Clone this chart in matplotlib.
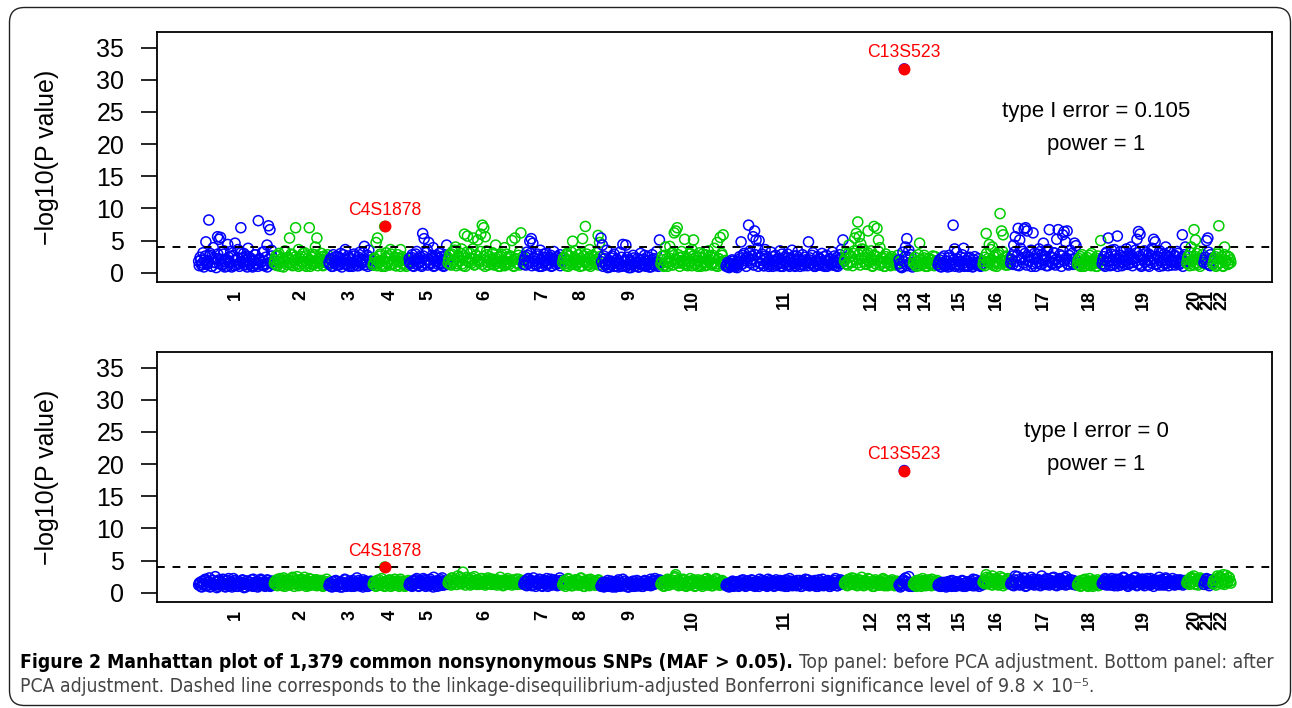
import matplotlib
matplotlib.use('Agg')
import matplotlib.pyplot as plt
from matplotlib import font_manager
from matplotlib.font_manager import FontProperties
from matplotlib.patches import FancyBboxPatch
from matplotlib.transforms import IdentityTransform
import numpy as np

# ---------------- data ----------------
chromosomes = [str(i) for i in range(1, 23)]
chrom_sizes = [101, 73, 59, 48, 52, 101, 52, 51, 80, 87, 158, 73, 19, 33, 60, 37, 89, 33, 113, 23, 12, 25]

# top panel: before PCA adjustment (-log10 P). Each chromosome has a list of SNPs read
# from the picture (top_k) and a list of the remaining, densely packed baseline SNPs (tf_k).
top_1 = [1.8, 2.4, 1.2, 3.1, 2.0, 4.8, 1.5, 8.2, 2.7, 1.0, 3.9, 1.6, 2.2, 5.6, 5.2, 5.5, 1.3, 2.9, 0.9, 2.1, 4.4, 1.7, 3.3, 2.5, 1.1, 4.6, 2.0, 3.6, 1.4, 7.0, 2.3, 3.0, 1.2, 2.6, 3.8, 1.5, 2.2, 0.9, 1.9, 2.8, 1.3, 8.1, 2.0, 1.6, 3.2, 1.1, 2.4, 4.3, 7.3, 6.7, 3.5, 1.8]
top_2 = [1.5, 2.6, 1.1, 3.0, 1.8, 2.2, 0.9, 3.4, 1.6, 2.4, 5.4, 1.3, 2.8, 1.9, 7.0, 2.1, 3.6, 1.2, 2.5, 1.7, 3.1, 1.0, 2.3, 7.0, 1.4, 2.9, 1.8, 4.0, 5.4, 2.2, 1.5, 3.0, 1.1, 2.6, 1.9, 2.8]
top_3 = [1.6, 2.2, 1.0, 2.8, 1.4, 1.9, 2.5, 1.2, 3.0, 1.7, 2.1, 3.6, 1.3, 2.6, 1.0, 2.0, 1.5, 2.9, 1.8, 1.1, 2.4, 3.2, 1.6, 2.0, 4.1, 1.3, 2.7, 3.5, 1.9, 1.2]
top_4 = [1.2, 2.3, 4.7, 5.4, 1.6, 2.9, 1.0, 2.0, 7.2, 3.1, 1.5, 2.6, 3.6, 1.3, 1.9, 2.4, 1.1, 2.8, 1.7, 3.6, 2.2, 1.4, 2.0, 1.0, 1.8]
top_5 = [2.2, 1.4, 2.8, 1.0, 1.9, 3.3, 1.6, 2.5, 1.2, 6.1, 5.3, 2.0, 3.6, 4.7, 1.5, 2.3, 3.9, 1.1, 2.7, 1.8, 3.0, 1.3, 2.1, 1.0, 2.6, 4.3]
top_6 = [1.5, 2.8, 1.2, 3.3, 2.0, 4.0, 1.4, 2.6, 1.8, 3.7, 1.1, 6.0, 2.3, 5.7, 1.6, 3.0, 2.2, 5.4, 1.3, 2.7, 5.1, 1.9, 6.0, 7.4, 7.0, 5.6, 3.4, 1.2, 2.5, 1.7, 3.1, 2.0, 4.3, 1.5, 2.4, 1.0, 2.9, 1.8, 3.9, 1.3, 2.2, 1.6, 2.6, 5.0, 1.1, 5.4, 2.1, 1.4, 3.2, 6.2, 1.9]
top_7 = [1.3, 2.5, 3.2, 1.8, 4.9, 5.3, 4.6, 2.2, 1.2, 2.9, 1.6, 3.5, 1.0, 2.4, 1.9, 3.0, 1.4, 2.1, 2.7, 1.1, 3.3, 1.7, 2.3, 1.5, 2.8, 2.0]
top_8 = [1.6, 2.4, 1.1, 3.0, 1.9, 2.6, 1.3, 4.9, 2.1, 3.4, 1.5, 2.8, 1.0, 2.2, 5.3, 1.7, 7.2, 2.9, 1.2, 3.6, 2.0, 1.4, 2.5, 1.8, 3.1, 5.8, 4.7]
top_9 = [5.4, 4.3, 2.6, 1.2, 3.5, 1.8, 0.9, 2.3, 1.5, 2.9, 1.1, 2.0, 1.4, 3.2, 1.0, 4.4, 1.7, 4.3, 2.4, 0.8, 1.9, 1.3, 2.7, 1.0, 1.6, 2.2, 0.9, 3.0, 1.4, 2.1, 1.1, 1.8, 2.5, 0.9, 1.5, 2.8, 1.2, 2.0, 3.3, 1.6, 5.1]
top_10 = [1.4, 2.6, 1.0, 4.0, 2.2, 1.7, 4.1, 3.0, 1.2, 6.2, 6.5, 7.0, 2.4, 1.5, 3.3, 1.8, 5.2, 2.1, 1.1, 2.9, 1.6, 3.6, 5.1, 1.3, 2.5, 1.9, 3.1, 1.0, 2.3, 1.7, 2.8, 1.2, 3.4, 2.0, 1.5, 2.7, 3.8, 1.1, 4.7, 2.2, 5.5, 3.0, 5.9, 1.6]
top_11 = [1.0, 1.6, 0.8, 1.3, 2.0, 1.1, 0.9, 1.7, 1.2, 2.5, 4.8, 1.4, 3.0, 2.2, 1.8, 7.4, 3.4, 2.6, 5.6, 6.5, 5.1, 3.8, 5.0, 1.5, 2.9, 1.1, 3.6, 2.3, 1.4, 2.0, 3.2, 1.0, 1.7, 2.7, 1.3, 2.1, 3.4, 1.6, 1.0, 2.4, 1.8, 2.9, 1.2, 2.2, 3.5, 1.5, 1.0, 2.6, 3.3, 1.9, 1.3, 2.8, 1.1, 2.0, 1.6, 4.8, 2.3, 1.4, 3.1, 1.0, 1.8, 2.5, 1.2, 2.1, 3.0, 1.5, 1.0, 2.7, 1.7, 2.2, 1.3, 3.2, 1.9, 1.1, 2.4, 1.6, 2.8, 3.6, 5.1]
top_12 = [1.8, 3.2, 1.2, 4.3, 2.5, 1.6, 3.0, 5.4, 6.1, 7.9, 5.6, 4.5, 2.2, 3.6, 1.4, 2.8, 6.5, 1.9, 3.4, 1.1, 7.2, 2.6, 6.9, 5.1, 3.9, 1.5, 2.3, 1.0, 2.9, 1.7, 2.1, 1.3, 2.5, 1.8, 2.0, 1.2, 2.7]
top_13 = [2.0, 1.0, 0.9, 3.2, 31.7, 4.0, 5.3, 2.4, 1.5, 2.8, 1.2]
top_14 = [1.5, 2.4, 1.0, 1.8, 4.6, 2.1, 1.3, 2.7, 1.6, 1.0, 2.2, 1.4, 2.0, 1.2, 2.5, 1.7]
top_15 = [1.2, 2.0, 0.9, 1.6, 2.6, 1.1, 1.8, 2.3, 1.0, 1.4, 7.4, 3.7, 1.3, 2.1, 0.9, 1.7, 2.8, 3.8, 1.2, 1.9, 1.0, 2.4, 1.5, 0.9, 2.0, 1.3, 1.6, 2.2, 1.1, 1.8]
top_16 = [1.3, 2.4, 6.1, 1.7, 4.4, 2.0, 4.0, 1.1, 2.8, 1.5, 3.2, 9.2, 6.5, 5.9, 1.9, 2.6, 1.2, 2.2]
top_17 = [1.5, 2.6, 4.3, 5.6, 1.2, 6.9, 5.1, 2.0, 3.3, 6.8, 7.0, 6.5, 1.8, 2.4, 1.0, 6.2, 3.0, 1.6, 2.2, 3.7, 1.3, 2.8, 4.6, 1.9, 3.4, 1.1, 6.7, 2.5, 1.4, 3.1, 2.0, 5.2, 6.7, 1.7, 2.6, 5.9, 6.4, 4.8, 6.5, 1.2, 3.5, 2.1, 1.5, 4.6, 4.2]
top_18 = [1.3, 2.2, 1.0, 2.8, 1.6, 1.1, 2.4, 1.8, 1.2, 3.0, 1.5, 2.0, 1.0, 2.6, 1.7, 5.0]
top_19 = [1.4, 2.5, 1.0, 3.2, 5.4, 1.8, 2.9, 1.2, 3.6, 2.1, 5.7, 1.5, 2.7, 1.1, 3.3, 1.9, 2.4, 1.3, 3.0, 4.0, 1.6, 2.2, 3.5, 5.2, 6.4, 6.0, 1.2, 2.8, 1.7, 3.1, 2.0, 1.0, 2.6, 3.8, 5.2, 4.8, 1.4, 2.3, 3.4, 1.8, 1.1, 2.9, 4.0, 1.5, 2.4, 3.2, 1.2, 2.0, 2.7, 1.6, 3.0, 1.3, 2.2, 5.9, 1.8, 4.0]
top_20 = [1.5, 2.6, 1.1, 4.0, 2.0, 6.7, 5.1, 3.0, 1.3, 2.3, 1.7, 2.8]
top_21 = [1.6, 2.4, 5.0, 5.4, 1.2, 2.8, 1.9]
top_22 = [1.3, 2.2, 1.0, 2.9, 7.3, 1.6, 2.5, 1.1, 4.0, 1.8, 2.6, 1.4, 2.0]

tf_1 = [1.1, 2.0, 1.5, 0.9, 2.6, 1.3, 1.8, 3.0, 1.0, 2.2, 1.6, 0.8, 2.9, 1.4, 2.1, 1.2, 3.4, 1.7, 1.0, 2.4, 1.5, 0.9, 2.7, 1.9, 1.2, 2.3, 1.0, 3.1, 1.6, 1.3, 2.0, 0.9, 2.5, 1.4, 1.8, 1.1, 2.8, 1.5, 1.0, 2.2, 1.7, 1.2, 3.3, 1.4, 0.9, 2.1, 1.6, 2.6, 1.3]
tf_2 = [2.0, 1.2, 2.7, 1.6, 1.0, 2.3, 1.8, 3.2, 1.3, 2.1, 1.5, 2.9, 1.1, 1.9, 2.5, 1.4, 1.0, 2.2, 1.7, 3.0, 1.2, 2.6, 1.5, 1.9, 1.0, 2.4, 1.3, 2.8, 1.6, 1.1, 2.0, 1.8, 2.5, 1.2, 1.6, 2.2, 1.4]
tf_3 = [1.3, 2.0, 1.0, 1.7, 2.5, 1.2, 2.2, 1.5, 0.9, 2.8, 1.4, 1.9, 1.1, 2.3, 1.6, 1.0, 2.6, 1.3, 1.8, 1.1, 2.1, 1.5, 3.1, 1.2, 1.7, 1.0, 2.4, 1.4, 1.9]
tf_4 = [1.5, 2.1, 1.1, 1.8, 2.6, 1.3, 2.0, 1.0, 2.4, 1.6, 1.2, 2.9, 1.4, 1.9, 1.1, 2.3, 1.7, 1.0, 2.5, 1.5, 1.2, 2.0, 1.6]
tf_5 = [1.6, 2.4, 1.1, 1.9, 2.9, 1.3, 2.2, 1.7, 1.0, 2.6, 1.5, 3.1, 1.2, 2.0, 1.4, 2.7, 1.0, 1.8, 2.3, 1.3, 1.6, 2.5, 1.1, 1.9, 2.1, 1.4]
tf_6 = [2.1, 1.3, 2.9, 1.7, 3.5, 1.1, 2.4, 1.9, 3.0, 1.4, 2.6, 1.0, 3.2, 1.8, 2.2, 1.5, 3.7, 1.2, 2.7, 2.0, 1.6, 3.3, 1.3, 2.5, 1.0, 2.8, 1.7, 2.1, 1.4, 3.0, 1.2, 2.3, 1.8, 1.0, 2.6, 1.5, 2.0, 1.1, 2.9, 1.6, 1.3, 2.4, 1.9, 1.0, 2.2, 1.5, 2.7, 1.2, 1.8, 2.5]
tf_7 = [2.0, 1.2, 2.7, 1.5, 3.0, 1.1, 2.3, 1.8, 1.3, 2.6, 1.0, 2.1, 1.6, 2.9, 1.2, 1.9, 1.4, 2.4, 1.0, 2.2, 1.7, 1.3, 2.5, 1.5, 1.1, 1.9]
tf_8 = [2.2, 1.4, 2.8, 1.0, 1.9, 3.2, 1.5, 2.4, 1.2, 2.0, 1.7, 3.0, 1.1, 2.6, 1.6, 1.3, 2.3, 1.0, 2.7, 1.8, 1.4, 2.1, 1.2, 2.5]
tf_9 = [1.7, 1.0, 2.2, 1.4, 0.8, 1.9, 1.2, 2.6, 1.0, 1.6, 2.1, 0.9, 1.4, 2.4, 1.1, 1.8, 1.0, 2.0, 1.3, 0.8, 1.7, 2.3, 1.1, 1.5, 0.9, 2.0, 1.2, 1.6, 2.7, 1.0, 1.4, 1.9, 0.9, 1.3, 2.2, 1.1, 1.7, 1.0, 1.5]
tf_10 = [2.0, 1.1, 2.7, 1.6, 1.0, 2.3, 1.8, 3.1, 1.3, 2.1, 1.5, 2.8, 1.0, 1.9, 2.5, 1.4, 1.2, 2.2, 1.7, 3.0, 1.1, 2.6, 1.5, 1.9, 1.0, 2.4, 1.3, 2.9, 1.6, 1.1, 2.0, 1.8, 2.6, 1.2, 1.5, 2.3, 1.4, 1.0, 2.1, 1.7, 2.7, 1.3, 1.9]
tf_11 = [1.2, 0.9, 1.5, 1.0, 1.8, 1.1, 1.4, 0.8, 1.6, 2.2, 1.3, 2.7, 1.9, 1.0, 2.4, 3.0, 1.5, 2.1, 1.2, 2.8, 1.7, 1.0, 2.3, 1.4, 1.9, 1.1, 2.6, 1.6, 1.0, 2.0, 1.3, 2.5, 1.8, 1.1, 2.2, 1.5, 1.0, 2.9, 1.4, 1.7, 1.2, 2.3, 1.0, 1.9, 1.6, 2.6, 1.1, 1.4, 2.1, 1.0, 1.8, 1.3, 2.4, 1.6, 1.1, 2.0, 1.5, 2.7, 1.2, 1.0, 1.9, 1.4, 2.2, 1.7, 1.1, 2.5, 1.3, 1.0, 1.8, 2.1, 1.5, 1.2, 2.6, 1.6, 1.0, 2.0, 1.4, 2.3, 1.8]
tf_12 = [2.2, 1.4, 3.0, 1.7, 2.6, 1.1, 3.4, 2.0, 1.5, 2.8, 1.2, 3.7, 1.8, 2.4, 1.3, 3.1, 1.6, 2.1, 1.0, 2.7, 1.4, 1.9, 3.3, 1.2, 2.3, 1.7, 1.0, 2.5, 1.5, 2.0, 1.1, 2.2, 1.6, 1.3, 1.9, 1.4]
tf_13 = [1.4, 0.8, 1.8, 2.5, 1.1, 3.5, 1.6, 0.9]
tf_14 = [2.0, 1.2, 1.6, 2.8, 1.1, 1.9, 1.4, 2.3, 1.0, 1.7, 2.1, 1.3, 1.5, 2.6, 1.1, 1.8, 1.4]
tf_15 = [1.6, 1.0, 2.3, 1.4, 1.1, 1.8, 0.9, 2.7, 1.3, 1.5, 2.0, 1.0, 3.2, 1.7, 1.2, 2.4, 1.4, 1.0, 1.9, 1.1, 2.2, 1.6, 1.3, 1.0, 2.5, 1.5, 1.2, 1.7, 1.0, 1.4]
tf_16 = [1.8, 1.1, 3.0, 2.2, 1.5, 3.6, 1.3, 2.5, 1.7, 1.0, 2.8, 1.4, 2.0, 3.3, 1.6, 1.2, 2.4, 1.5, 1.9]
tf_17 = [2.1, 1.3, 3.2, 1.8, 2.7, 1.1, 3.8, 2.3, 1.5, 3.0, 1.2, 2.5, 1.9, 3.5, 1.4, 2.2, 1.0, 2.9, 1.7, 3.3, 1.3, 2.0, 2.6, 1.1, 3.6, 1.8, 2.4, 1.5, 3.1, 1.2, 2.1, 1.6, 2.8, 1.0, 3.4, 1.9, 2.3, 1.4, 2.7, 1.7, 3.0, 1.3, 2.2, 1.6]
tf_18 = [1.9, 1.2, 2.5, 1.5, 1.0, 2.1, 1.7, 1.3, 2.7, 1.1, 1.8, 1.4, 2.3, 1.0, 1.6, 2.0, 1.3]
tf_19 = [2.0, 1.2, 3.0, 1.7, 2.4, 1.1, 3.5, 1.9, 1.4, 2.7, 1.0, 2.2, 3.3, 1.6, 2.5, 1.3, 3.7, 2.0, 1.5, 2.8, 1.1, 2.3, 1.8, 3.1, 1.4, 2.6, 1.0, 2.1, 3.4, 1.7, 1.2, 2.9, 1.9, 1.5, 3.6, 2.2, 1.3, 2.5, 1.0, 3.0, 1.8, 2.4, 1.4, 2.7, 1.1, 3.2, 2.0, 1.6, 2.6, 1.2, 3.3, 1.9, 1.5, 2.3, 1.0, 2.8, 1.7]
tf_20 = [2.1, 1.4, 3.1, 1.8, 1.2, 2.5, 1.6, 3.4, 1.0, 2.2, 1.5]
tf_21 = [2.0, 1.4, 3.2, 1.1, 2.3]
tf_22 = [1.7, 2.5, 1.2, 3.3, 1.5, 2.1, 1.0, 2.8, 1.9, 1.3, 2.4, 1.6]

# bottom panel: after PCA adjustment (bot_k read SNPs, bf_k remaining baseline SNPs)
bot_1 = [1.2, 1.6, 0.9, 1.4, 2.0, 1.1, 1.7, 2.3, 1.0, 1.5, 1.3, 2.5, 0.8, 1.8, 1.2, 1.6, 2.1, 1.0, 1.4, 1.9, 1.1, 1.6, 0.9, 2.2, 1.3, 1.7, 1.0, 1.5, 1.2, 1.9, 0.8, 1.4, 1.8, 1.1, 1.6, 2.0, 1.0, 1.3, 1.7, 0.9, 1.5, 2.1, 1.2, 1.6, 1.0, 1.4, 1.9, 1.1, 1.3, 1.7]
bot_2 = [1.4, 1.9, 1.1, 1.6, 2.2, 1.3, 1.8, 1.0, 2.0, 1.5, 1.2, 1.7, 2.4, 1.4, 1.9, 2.5, 1.1, 1.6, 2.1, 1.3, 1.8, 1.0, 1.5, 2.2, 1.2, 1.7, 1.4, 2.0, 1.1, 1.6, 1.3, 1.9, 1.0, 1.5, 1.2, 1.7]
bot_3 = [1.1, 1.5, 0.9, 1.3, 1.8, 1.0, 1.4, 1.2, 1.7, 0.9, 1.5, 2.0, 1.1, 1.3, 1.6, 1.0, 1.9, 1.2, 1.4, 2.3, 1.1, 1.6, 1.3, 0.9, 1.5, 1.8, 1.0, 1.4, 1.2, 1.7]
bot_4 = [1.3, 1.7, 1.0, 1.5, 2.0, 1.2, 1.6, 1.1, 4.0, 1.8, 1.4, 1.9, 1.0, 1.6, 1.3, 2.1, 1.2, 1.5, 1.0, 1.8, 1.4, 1.1, 1.6, 1.3, 1.7]
bot_5 = [1.2, 1.6, 1.0, 1.9, 1.4, 2.2, 1.1, 1.5, 1.8, 1.3, 2.0, 1.0, 1.6, 1.2, 2.1, 1.4, 0.9, 1.7, 1.3, 1.9, 1.1, 1.5, 2.3, 1.2, 1.6, 1.4]
bot_6 = [1.5, 1.9, 1.2, 2.2, 1.6, 2.0, 1.3, 1.8, 2.4, 1.4, 3.2, 1.7, 2.1, 1.5, 1.9, 1.2, 2.3, 1.6, 1.8, 1.3, 2.0, 1.5, 2.2, 1.4, 1.7, 1.2, 1.9, 1.6, 2.1, 1.3, 1.8, 1.5, 2.0, 1.2, 1.7, 1.4, 1.9, 1.1, 1.6, 2.0, 1.3, 1.8, 1.5, 1.2, 1.7, 1.4, 2.1, 1.3, 1.6, 1.9, 1.4]
bot_7 = [1.3, 1.8, 1.1, 2.2, 1.5, 1.9, 1.2, 1.6, 1.0, 1.7, 1.4, 2.0, 1.1, 1.5, 1.3, 1.8, 1.0, 1.6, 2.1, 1.2, 1.5, 1.9, 1.3, 1.7, 2.3, 1.4]
bot_8 = [1.2, 1.7, 1.0, 1.5, 2.1, 1.3, 1.8, 1.1, 1.6, 2.0, 1.4, 1.9, 1.2, 2.2, 1.5, 1.0, 1.7, 1.3, 2.0, 1.1, 1.6, 1.4, 1.8, 1.2, 1.5, 1.9, 1.3]
bot_9 = [1.0, 1.4, 0.9, 1.2, 1.6, 1.0, 1.3, 1.8, 1.1, 1.5, 0.9, 1.2, 1.7, 1.0, 1.4, 2.1, 1.1, 1.3, 1.6, 0.9, 1.5, 1.2, 1.8, 1.0, 1.4, 1.1, 1.7, 1.3, 1.0, 1.5, 1.9, 1.2, 1.4, 1.6, 1.1, 1.8, 1.3, 2.2, 1.5, 1.7, 2.0]
bot_10 = [1.3, 1.7, 1.0, 1.5, 1.9, 1.2, 1.6, 2.0, 1.4, 2.3, 2.8, 1.8, 1.1, 1.6, 1.3, 2.1, 1.5, 1.0, 1.8, 1.2, 1.6, 1.4, 2.0, 1.1, 1.5, 1.7, 1.3, 1.9, 1.0, 1.6, 1.4, 2.2, 1.2, 1.8, 1.5, 1.1, 1.7, 1.3, 2.0, 1.6, 1.2, 1.8, 1.4, 1.5]
bot_11 = [1.1, 1.4, 0.9, 1.2, 1.6, 1.0, 1.3, 1.7, 1.1, 1.5, 1.9, 1.2, 1.4, 1.0, 1.8, 1.3, 1.6, 2.0, 1.1, 1.5, 1.2, 1.7, 1.0, 1.4, 1.9, 1.3, 1.6, 1.1, 2.1, 1.2, 1.5, 1.8, 1.0, 1.4, 1.7, 1.2, 1.9, 1.1, 1.6, 1.3, 2.0, 1.0, 1.5, 1.8, 1.2, 1.4, 1.7, 1.1, 1.3, 1.9, 1.0, 1.6, 1.4, 2.1, 1.2, 1.5, 1.1, 1.8, 1.3, 1.6, 1.0, 1.4, 2.0, 1.2, 1.7, 1.1, 1.5, 1.3, 1.9, 1.0, 1.6, 1.2, 1.4, 2.2, 1.1, 1.5, 1.3, 1.8, 1.6]
bot_12 = [1.4, 1.8, 1.1, 2.1, 1.5, 2.3, 1.3, 1.9, 1.6, 1.2, 2.0, 1.5, 1.7, 1.1, 1.9, 1.4, 2.2, 1.3, 1.6, 1.0, 1.8, 1.4, 1.5, 1.2, 1.7, 1.3, 2.0, 1.1, 1.6, 1.4, 1.2, 1.8, 1.3, 1.5, 1.1, 1.7, 1.4]
bot_13 = [1.2, 0.9, 1.5, 1.8, 19.0, 2.3, 1.7, 1.3, 1.0, 1.6, 1.4]
bot_14 = [1.3, 1.7, 1.0, 1.5, 2.0, 1.2, 1.6, 1.9, 1.1, 1.4, 1.8, 1.2, 2.1, 1.5, 1.3, 1.7]
bot_15 = [1.1, 1.4, 1.0, 1.3, 1.6, 1.1, 1.5, 1.2, 1.8, 1.0, 1.4, 1.3, 1.7, 1.1, 1.5, 1.2, 1.9, 1.0, 1.4, 1.6, 1.2, 1.3, 1.8, 1.1, 1.5, 2.0, 1.2, 1.4, 1.7, 1.3]
bot_16 = [1.6, 2.0, 2.8, 1.4, 2.3, 1.7, 1.2, 2.1, 1.5, 1.9, 1.3, 2.5, 1.6, 1.1, 1.8, 1.4, 2.2, 1.5]
bot_17 = [1.3, 1.7, 1.1, 2.6, 1.5, 2.0, 1.2, 1.8, 1.4, 2.3, 1.0, 1.6, 1.9, 1.3, 1.5, 2.1, 1.2, 1.7, 1.4, 2.0, 1.1, 1.6, 1.8, 1.3, 2.2, 1.5, 1.2, 1.9, 1.4, 2.4, 1.6, 1.1, 1.7, 2.1, 1.3, 1.5, 2.3, 1.2, 1.8, 1.4, 2.0, 1.6, 1.3, 1.5, 1.2]
bot_18 = [1.2, 1.6, 1.0, 1.9, 1.4, 2.1, 1.1, 1.5, 1.3, 1.8, 1.0, 1.7, 1.4, 2.0, 1.2, 1.5]
bot_19 = [1.4, 1.8, 2.2, 1.2, 1.6, 2.0, 1.3, 1.7, 1.1, 2.1, 1.5, 1.9, 1.2, 1.6, 2.3, 1.4, 1.8, 1.0, 1.5, 2.0, 1.3, 1.7, 2.4, 1.2, 1.6, 1.9, 1.4, 2.1, 1.1, 1.5, 1.8, 1.3, 2.2, 1.6, 1.0, 1.7, 1.4, 1.9, 1.2, 2.0, 1.5, 1.3, 2.3, 1.6, 1.1, 1.8, 1.4, 1.7, 1.2, 2.0, 1.5, 1.3, 1.9, 1.6, 1.4, 1.8]
bot_20 = [1.5, 2.0, 1.3, 2.4, 1.7, 2.2, 1.4, 1.9, 1.2, 2.1, 1.6, 1.8]
bot_21 = [1.3, 1.8, 2.2, 1.5, 1.1, 2.0, 1.6]
bot_22 = [1.4, 2.0, 1.2, 2.6, 1.7, 2.3, 1.5, 2.8, 1.3, 2.1, 1.6, 2.4, 1.8]

bf_1 = [1.5, 1.0, 1.8, 1.3, 2.1, 1.1, 1.6, 0.9, 1.4, 1.9, 1.2, 1.7, 1.0, 2.0, 1.5, 1.2, 1.8, 0.9, 1.4, 2.2, 1.1, 1.6, 1.3, 1.9, 1.0, 1.5, 1.7, 1.2, 2.0, 1.4, 0.9, 1.8, 1.3, 1.6, 1.1, 2.1, 1.5, 1.0, 1.7, 1.2, 1.9, 1.4, 1.1, 1.6, 2.0, 1.3, 1.0, 1.8, 1.5]
bf_2 = [1.7, 1.2, 2.1, 1.5, 1.9, 1.1, 2.3, 1.6, 1.3, 2.0, 1.8, 1.4, 2.2, 1.0, 1.7, 1.5, 2.0, 1.2, 1.9, 1.6, 2.4, 1.3, 1.8, 1.1, 2.1, 1.5, 1.7, 1.2, 2.0, 1.4, 1.9, 1.6, 1.1, 1.8, 1.4, 2.1, 1.3]
bf_3 = [1.4, 1.0, 1.7, 1.2, 1.9, 1.1, 1.5, 0.9, 1.6, 1.3, 2.1, 1.0, 1.4, 1.8, 1.2, 1.5, 1.0, 1.7, 1.3, 1.9, 1.1, 1.4, 2.0, 1.2, 1.6, 1.0, 1.5, 1.8, 1.3]
bf_4 = [1.6, 1.1, 1.9, 1.4, 1.2, 2.2, 1.5, 1.0, 1.7, 1.3, 2.0, 1.5, 1.1, 1.8, 1.4, 1.6, 1.2, 2.1, 1.3, 1.7, 1.0, 1.5, 1.9]
bf_5 = [1.5, 1.1, 1.8, 1.3, 2.0, 1.6, 1.0, 1.7, 1.4, 2.2, 1.2, 1.9, 1.5, 1.1, 1.8, 1.3, 2.4, 1.6, 1.0, 1.7, 1.4, 2.0, 1.2, 1.8, 1.5, 1.3]
bf_6 = [1.8, 1.4, 2.3, 1.6, 2.0, 1.3, 2.6, 1.7, 1.5, 2.2, 1.9, 1.2, 2.4, 1.6, 2.1, 1.4, 1.8, 2.5, 1.5, 2.0, 1.3, 1.7, 2.2, 1.6, 1.9, 1.4, 2.3, 1.5, 1.8, 2.1, 1.3, 1.7, 2.0, 1.5, 2.4, 1.6, 1.2, 1.9, 1.7, 2.2, 1.4, 1.8, 1.5, 2.0, 1.3, 1.6, 2.1, 1.7, 1.4, 1.9]
bf_7 = [1.6, 1.2, 2.0, 1.4, 1.7, 1.1, 2.3, 1.5, 1.8, 1.3, 2.1, 1.6, 1.0, 1.9, 1.4, 2.2, 1.2, 1.7, 1.5, 2.0, 1.3, 1.8, 1.1, 1.6, 1.9, 1.4]
bf_8 = [1.5, 1.9, 1.3, 2.2, 1.6, 1.1, 1.8, 1.4, 2.0, 1.2, 1.7, 2.3, 1.5, 1.0, 1.9, 1.6, 1.3, 2.1, 1.4, 1.8, 1.2, 1.7, 2.0, 1.5]
bf_9 = [1.2, 1.6, 1.0, 1.4, 1.9, 1.1, 1.5, 0.9, 1.3, 1.7, 1.0, 2.0, 1.2, 1.5, 1.1, 1.8, 1.3, 0.9, 1.6, 1.4, 1.0, 1.7, 1.2, 1.9, 1.1, 1.5, 1.3, 1.0, 1.8, 1.4, 1.6, 1.2, 2.1, 1.5, 1.3, 1.9, 1.6, 1.8, 1.4]
bf_10 = [1.5, 1.1, 1.8, 1.4, 2.1, 1.2, 1.7, 1.9, 1.5, 2.5, 1.3, 2.0, 1.6, 1.2, 1.9, 1.4, 1.1, 1.7, 1.5, 2.2, 1.3, 1.8, 1.0, 1.6, 2.0, 1.4, 1.2, 1.7, 1.5, 2.1, 1.3, 1.9, 1.6, 1.1, 1.8, 1.4, 2.2, 1.5, 1.2, 1.7, 1.9, 1.3, 1.6]
bf_11 = [1.3, 1.0, 1.5, 1.2, 1.8, 1.1, 1.4, 1.6, 1.0, 1.7, 1.3, 2.0, 1.5, 1.1, 1.8, 1.4, 1.2, 1.9, 1.6, 1.0, 1.7, 1.3, 2.1, 1.5, 1.2, 1.8, 1.4, 1.0, 1.6, 1.9, 1.3, 1.5, 1.1, 2.0, 1.4, 1.7, 1.2, 1.5, 1.8, 1.0, 1.6, 1.3, 2.2, 1.4, 1.1, 1.7, 1.5, 1.9, 1.2, 1.4, 1.0, 1.8, 1.6, 1.3, 2.0, 1.1, 1.5, 1.7, 1.2, 1.9, 1.4, 1.0, 1.6, 1.3, 2.1, 1.5, 1.2, 1.8, 1.4, 1.0, 1.7, 1.3, 1.9, 1.5, 1.1, 1.6, 2.0, 1.4, 1.7]
bf_12 = [1.6, 1.2, 2.0, 1.5, 1.8, 1.3, 2.2, 1.7, 1.1, 1.9, 1.4, 2.4, 1.6, 1.2, 1.8, 1.5, 2.1, 1.3, 1.7, 1.0, 2.0, 1.5, 1.8, 1.2, 1.6, 2.2, 1.4, 1.9, 1.1, 1.7, 1.5, 2.0, 1.3, 1.6, 1.8, 1.2]
bf_13 = [1.4, 1.1, 2.0, 1.6, 1.2, 2.5, 1.5, 1.0]
bf_14 = [1.5, 1.1, 1.9, 1.3, 1.7, 1.0, 2.2, 1.4, 1.6, 1.2, 2.0, 1.5, 1.1, 1.8, 1.3, 1.6, 1.9]
bf_15 = [1.3, 1.0, 1.6, 1.2, 1.5, 0.9, 1.7, 1.1, 1.4, 1.9, 1.2, 1.0, 1.6, 1.3, 1.5, 1.1, 1.8, 1.4, 1.0, 1.7, 1.2, 1.5, 1.3, 2.1, 1.1, 1.6, 1.4, 1.0, 1.8, 1.2]
bf_16 = [1.8, 1.4, 2.4, 1.6, 2.0, 1.3, 2.6, 1.7, 1.5, 2.2, 1.2, 1.9, 1.6, 2.3, 1.4, 1.8, 2.0, 1.5, 1.7]
bf_17 = [1.6, 1.2, 2.0, 1.4, 2.5, 1.7, 1.3, 1.9, 1.5, 2.2, 1.1, 1.8, 1.6, 2.4, 1.3, 1.7, 2.0, 1.4, 1.9, 1.2, 2.6, 1.5, 1.8, 1.3, 2.1, 1.6, 1.4, 2.3, 1.7, 1.2, 1.9, 1.5, 2.2, 1.4, 1.8, 1.6, 2.5, 1.3, 1.7, 2.0, 1.5, 1.9, 1.4, 1.7]
bf_18 = [1.4, 1.8, 1.1, 1.6, 2.0, 1.3, 1.7, 1.0, 2.2, 1.5, 1.2, 1.9, 1.4, 1.6, 1.1, 1.8, 1.5]
bf_19 = [1.6, 1.3, 2.0, 1.5, 1.8, 1.2, 2.2, 1.7, 1.4, 1.9, 1.1, 2.1, 1.6, 1.3, 2.4, 1.5, 1.8, 1.2, 2.0, 1.7, 1.4, 2.3, 1.6, 1.1, 1.9, 1.5, 2.1, 1.3, 1.8, 1.6, 2.2, 1.4, 1.2, 1.9, 1.7, 2.0, 1.5, 1.3, 2.4, 1.6, 1.8, 1.2, 2.1, 1.4, 1.7, 1.9, 1.5, 2.2, 1.3, 1.6, 1.8, 1.4, 2.0, 1.7, 1.2, 1.9, 1.5]
bf_20 = [1.8, 1.4, 2.2, 1.6, 2.6, 1.3, 2.0, 1.7, 2.3, 1.5, 1.9]
bf_21 = [1.6, 2.1, 1.4, 1.9, 1.7]
bf_22 = [1.9, 1.5, 2.2, 1.7, 2.5, 1.4, 2.0, 1.6, 2.7, 1.8, 2.3, 1.5]

# highlighted SNPs: chromosome and position within that chromosome's top_k / bot_k list
hl_names = ['C4S1878', 'C13S523']
hl_chrom = [4, 13]
hl_item = [8, 4]

threshold_p = 9.8e-5
top_stats = ['type I error = 0.105', 'power = 1']
bot_stats = ['type I error = 0', 'power = 1']

top_series = [top_1, top_2, top_3, top_4, top_5, top_6, top_7, top_8, top_9, top_10, top_11,
              top_12, top_13, top_14, top_15, top_16, top_17, top_18, top_19, top_20, top_21, top_22]
top_fill = [tf_1, tf_2, tf_3, tf_4, tf_5, tf_6, tf_7, tf_8, tf_9, tf_10, tf_11,
            tf_12, tf_13, tf_14, tf_15, tf_16, tf_17, tf_18, tf_19, tf_20, tf_21, tf_22]
bot_series = [bot_1, bot_2, bot_3, bot_4, bot_5, bot_6, bot_7, bot_8, bot_9, bot_10, bot_11,
              bot_12, bot_13, bot_14, bot_15, bot_16, bot_17, bot_18, bot_19, bot_20, bot_21, bot_22]
bot_fill = [bf_1, bf_2, bf_3, bf_4, bf_5, bf_6, bf_7, bf_8, bf_9, bf_10, bf_11,
            bf_12, bf_13, bf_14, bf_15, bf_16, bf_17, bf_18, bf_19, bf_20, bf_21, bf_22]

# ---------------- style ----------------
BLUE = '#0000FF'
GREEN = '#00CD00'
RED = '#FF0000'
plt.rcParams['font.family'] = ['Liberation Sans', 'DejaVu Sans']

W, H = 1292, 708
fig = plt.figure(figsize=(W / 100, H / 100), dpi=100)
fig.patch.set_facecolor('white')

n_total = int(np.sum(chrom_sizes))
starts = np.concatenate([[0], np.cumsum(chrom_sizes)[:-1]])
mids = starts + (np.array(chrom_sizes) + 1) / 2.0


def positions(ci, n, shift=0.0):
    return starts[ci] + 0.5 + (np.arange(n) + 0.5 + shift) * chrom_sizes[ci] / n


def panel(rect, series, fill, stats):
    ax = fig.add_axes(rect)
    for ci in range(len(series)):
        col = BLUE if ci % 2 == 0 else GREEN
        for vals, sh in ((fill[ci], 0.37), (series[ci], 0.0)):
            x = positions(ci, len(vals), sh)
            ax.scatter(x, vals, s=52, facecolors='none', edgecolors=col, linewidths=1.1, zorder=2)
    for name, c, k in zip(hl_names, hl_chrom, hl_item):
        vals = series[c - 1]
        x = positions(c - 1, len(vals))[k]
        y = vals[k]
        ax.scatter([x], [y], s=74, color=RED, linewidths=0, zorder=4)
        ax.annotate(name, (x, y), xytext=(0, 11.5), textcoords='offset points',
                    ha='center', va='center', color=RED, fontsize=12.7)
    ax.axhline(-np.log10(threshold_p), color='black', lw=1.4, linestyle=(0, (4, 4)), zorder=3)
    ax.text(1200, 25, stats[0], ha='center', va='center', fontsize=16)
    ax.text(1200, 20, stats[1], ha='center', va='center', fontsize=16)
    pad = 0.04 * (n_total - 1)
    ax.set_xlim(1 - pad, n_total + pad)
    ax.set_ylim(-1.44, 37.44)
    ax.set_yticks(np.arange(0, 36, 5))
    ax.tick_params(axis='y', length=11.5, width=1.2, pad=12, labelsize=18)
    ax.set_xticks(mids)
    ax.set_xticklabels(chromosomes, rotation=90, fontweight='bold', fontsize=13)
    ax.tick_params(axis='x', length=0, pad=5.5)
    for sp in ax.spines.values():
        sp.set_linewidth(1.3)
    return ax


ax1 = panel([157 / W, 1 - 282 / H, 1115 / W, 250 / H], top_series, top_fill, top_stats)
ax2 = panel([157 / W, 1 - 602 / H, 1115 / W, 250 / H], bot_series, bot_fill, bot_stats)

for yc in (157, 477):
    fig.text(47 / W, 1 - yc / H, '\u2212log10(P value)', rotation=90, ha='center', va='center', fontsize=18)

# outer rounded frame
frame = FancyBboxPatch((9.5, 2.5), 1281, 698, boxstyle='round,pad=0,rounding_size=15',
                       transform=IdentityTransform(), facecolor='none', edgecolor='#222222', lw=1.0)
fig.add_artist(frame)


# caption font: prefer a condensed sans face if one is installed
def pick_caption_fonts():
    reg, bold = None, None
    for f in font_manager.fontManager.ttflist:
        fn = f.fname.lower()
        if not (('narrow' in fn) or ('condensed' in fn) or (str(f.stretch) in ('condensed', 'semi-condensed'))):
            continue
        if any(s in fn for s in ('italic', 'oblique', 'light', 'thin', 'semi', 'extra', 'black', 'medium')):
            continue
        if 'bold' in fn:
            if bold is None:
                bold = f.fname
        else:
            if reg is None:
                reg = f.fname
    if reg and bold:
        return FontProperties(fname=reg), FontProperties(fname=bold)
    return (FontProperties(family=['DejaVu Sans']),
            FontProperties(family=['DejaVu Sans'], weight='bold'))


fp_reg, fp_bold = pick_caption_fonts()
cap_bold = 'Figure 2 Manhattan plot of 1,379 common nonsynonymous SNPs (MAF > 0.05).'
cap_rest = 'Top panel: before PCA adjustment. Bottom panel: after'
cap_line2 = ('PCA adjustment. Dashed line corresponds to the linkage-disequilibrium-adjusted '
             'Bonferroni significance level of 9.8 \u00d7 10\u207b\u2075.')

renderer = fig.canvas.get_renderer()
fs = 13.0
y1 = 1 - 663 / H
y2 = 1 - 686 / H
t1 = fig.text(20 / W, y1, cap_bold, fontproperties=fp_bold, fontsize=fs, color='black',
              ha='left', va='center')
t2 = fig.text(0.5, y1, cap_rest, fontproperties=fp_reg, fontsize=fs, color='#444444', ha='left', va='center')
gap = 6
w = t1.get_window_extent(renderer).width + gap + t2.get_window_extent(renderer).width
fs = fs * 1255 / w
t1.set_fontsize(fs)
t2.set_fontsize(fs)
w1 = t1.get_window_extent(renderer).width
t2.set_x((20 + w1 + gap) / W)
fig.text(20 / W, y2, cap_line2, fontproperties=fp_reg, fontsize=fs, color='#444444', ha='left', va='center')

fig.savefig('out.png', dpi=100)
